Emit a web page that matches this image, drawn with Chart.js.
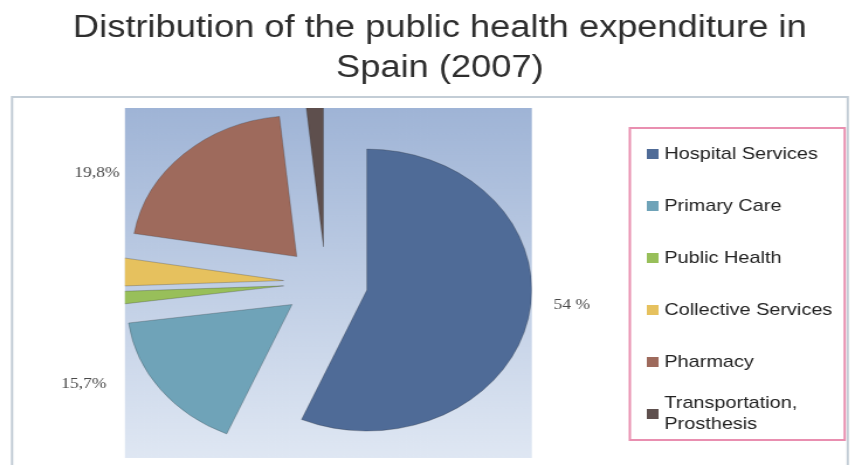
<!DOCTYPE html>
<html>
<head>
<meta charset="utf-8">
<title>Public health expenditure in Spain (2007)</title>
<script src="https://cdn.jsdelivr.net/npm/chart.js@4.4.1/dist/chart.umd.min.js"></script>
<style>
    html, body { margin: 0; padding: 0; background: #fff; overflow: hidden; }
    #expenditureChart { display: block; }
</style>
</head>
<body>
<canvas id="expenditureChart" width="731" height="465" style="width:855px;height:465px"></canvas>
<script>
const titleLines = ['Distribution of the public health expenditure in', 'Spain (2007)'];
const categories = ['Hospital Services', 'Primary Care', 'Public Health', 'Collective Services', 'Pharmacy', 'Transportation, Prosthesis'];
const shares = [54, 15.7, 1.4, 3.1, 19.8, 1.6];
const shareLabels = ['54 %', '15,7%', '', '', '19,8%', ''];
const sliceColors = ['#4f6b97', '#6fa3b8', '#98bf5a', '#e6c15e', '#9e6a5c', '#5e4f4d'];

// the source picture is stretched sideways, so the canvas is drawn 731 wide and css scales it to 855
const plotBox = { left: 106.8, top: 108, right: 454.7, bottom: 458 };
const explodeDist = 36;
const labelSpots = {
    0: { angle: 95, dist: 176 },
    1: { angle: 246, dist: 195 },
    4: { angle: 296, dist: 190 }
};

const backdropPlugin = {
    id: 'backdrop',
    beforeDraw(chart) {
        const ctx = chart.ctx;
        ctx.save();
        ctx.fillStyle = '#fff';
        ctx.fillRect(0, 0, chart.width, chart.height);

        ctx.strokeStyle = '#c3cdd6';
        ctx.lineWidth = 2;
        ctx.strokeRect(10.3, 97, 714.5, 420);

        const grad = ctx.createLinearGradient(0, plotBox.top, 0, plotBox.bottom);
        grad.addColorStop(0, '#9fb4d6');
        grad.addColorStop(1, '#dfe7f3');
        ctx.fillStyle = grad;
        ctx.fillRect(plotBox.left, plotBox.top, plotBox.right - plotBox.left, plotBox.bottom - plotBox.top);

        ctx.fillStyle = '#2e2e2e';
        ctx.font = '31px "Liberation Sans", Arial, sans-serif';
        ctx.textAlign = 'center';
        ctx.textBaseline = 'alphabetic';
        titleLines.forEach((line, i) => ctx.fillText(line, 376, 37 + i * 40));
        ctx.restore();
    }
};

// pull every slice away from the centre and keep them inside the plot box
const explodePlugin = {
    id: 'explode',
    afterDatasetsUpdate(chart) {
        chart.getDatasetMeta(0).data.forEach(arc => {
            const mid = (arc.startAngle + arc.endAngle) / 2;
            arc.x += Math.cos(mid) * explodeDist;
            arc.y += Math.sin(mid) * explodeDist;
        });
    },
    beforeDatasetsDraw(chart) {
        const ctx = chart.ctx;
        ctx.save();
        ctx.beginPath();
        ctx.rect(plotBox.left, plotBox.top, plotBox.right - plotBox.left, plotBox.bottom - plotBox.top);
        ctx.clip();
    },
    afterDatasetsDraw(chart) {
        chart.ctx.restore();
    }
};

function wrapText(ctx, text, maxWidth) {
    const words = text.split(' ');
    const lines = [];
    let line = '';
    words.forEach(word => {
        const test = line ? line + ' ' + word : word;
        if (line && ctx.measureText(test).width > maxWidth) {
            lines.push(line);
            line = word;
        } else {
            line = test;
        }
    });
    if (line) lines.push(line);
    return lines;
}

const labelsPlugin = {
    id: 'shareLabels',
    afterDraw(chart) {
        const ctx = chart.ctx;
        const arcs = chart.getDatasetMeta(0).data;
        ctx.save();
        ctx.font = '15px "Liberation Serif", "Times New Roman", serif';
        ctx.fillStyle = '#4a4a4a';
        ctx.textAlign = 'center';
        ctx.textBaseline = 'middle';
        Object.keys(labelSpots).forEach(key => {
            const i = Number(key);
            const spot = labelSpots[key];
            const rad = spot.angle * Math.PI / 180;
            const arc = arcs[i];
            ctx.fillText(shareLabels[i], arc.x + Math.sin(rad) * spot.dist, arc.y - Math.cos(rad) * spot.dist);
        });
        ctx.restore();
    }
};

const legendPlugin = {
    id: 'boxLegend',
    afterDraw(chart) {
        const ctx = chart.ctx;
        const labels = chart.data.labels;
        const colors = chart.data.datasets[0].backgroundColor;
        ctx.save();
        ctx.strokeStyle = '#e98fb0';
        ctx.lineWidth = 2;
        ctx.strokeRect(538.5, 128, 183.7, 312);

        ctx.font = '17px "Liberation Sans", Arial, sans-serif';
        ctx.textAlign = 'left';
        ctx.textBaseline = 'middle';
        labels.forEach((label, i) => {
            const y = 154 + i * 52;
            ctx.fillStyle = colors[i];
            ctx.fillRect(553, y - 5, 10, 10);
            ctx.fillStyle = '#222';
            const lines = wrapText(ctx, label, 150);
            const lineH = 21;
            const startY = y - (lines.length - 1) * lineH / 2;
            lines.forEach((ln, k) => ctx.fillText(ln, 568, startY + k * lineH));
        });
        ctx.restore();
    }
};

const ctx = document.getElementById('expenditureChart').getContext('2d');

const expenditureChart = new Chart(ctx, {
    type: 'pie',
    data: {
        labels: categories,
        datasets: [{
            data: shares,
            backgroundColor: sliceColors,
            borderColor: 'rgba(40, 40, 40, 0.25)',
            borderWidth: 1,
            radius: 141,
            clip: false
        }]
    },
    options: {
        responsive: false,
        animation: false,
        events: [],
        layout: {
            padding: { left: 106.8, right: 281, top: 108, bottom: 7.4 }
        },
        plugins: {
            legend: { display: false },
            title: { display: false },
            tooltip: { enabled: false }
        }
    },
    plugins: [backdropPlugin, explodePlugin, labelsPlugin, legendPlugin]
});
</script>
</body>
</html>
